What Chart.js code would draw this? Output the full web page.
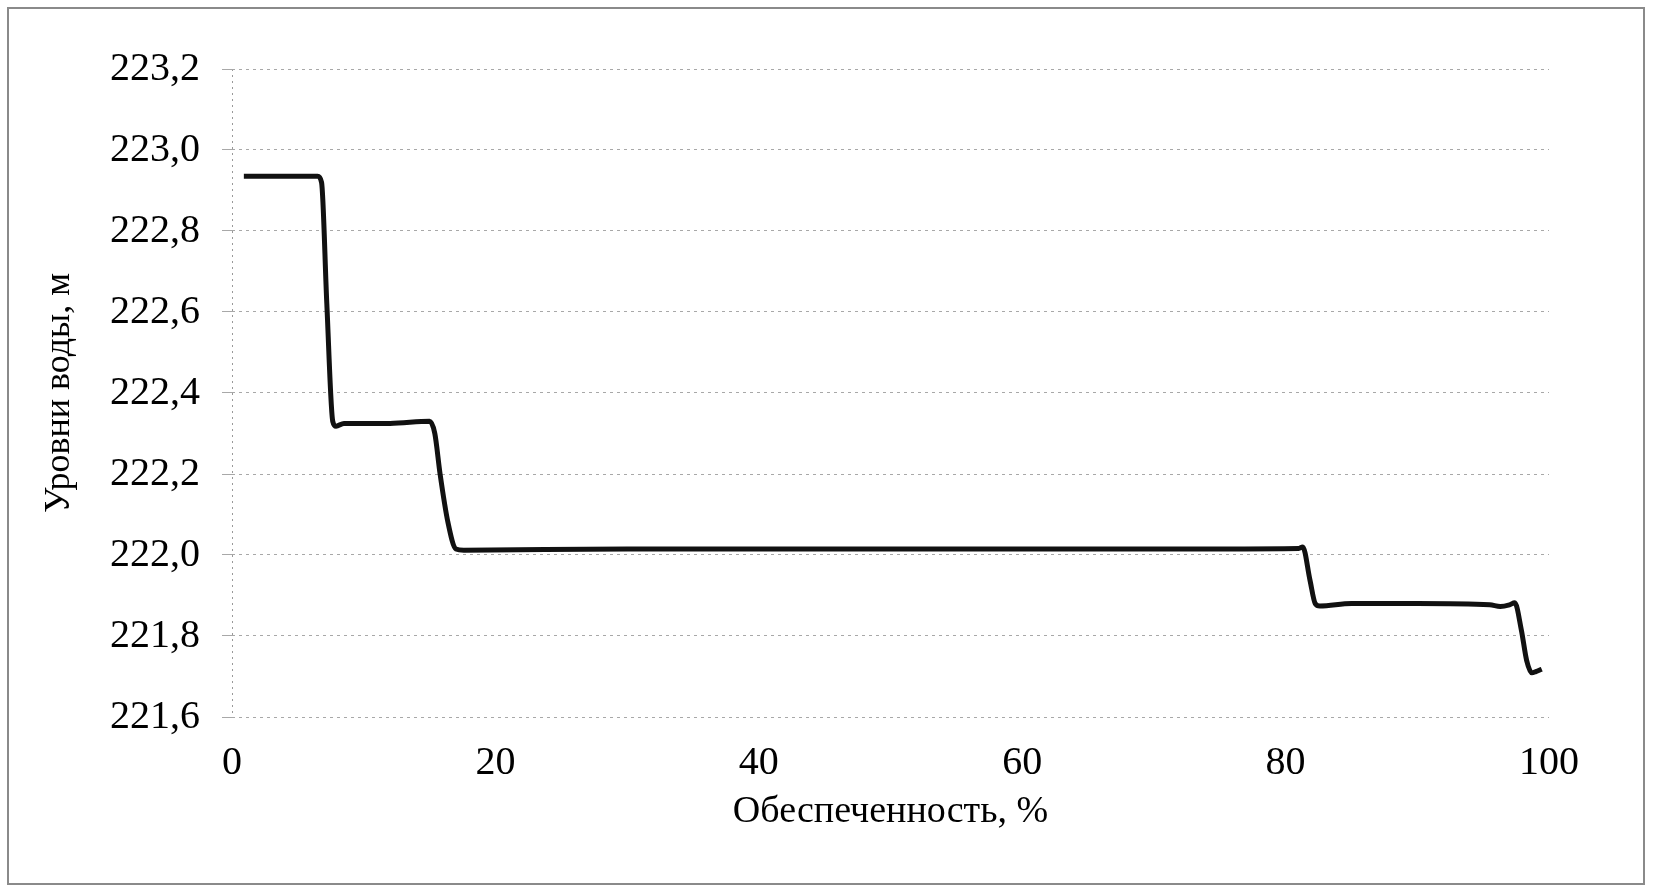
<!DOCTYPE html>
<html>
<head>
<meta charset="utf-8">
<script src="https://cdn.jsdelivr.net/npm/chart.js@4"></script>
<style>
    body { margin: 0; background: #fff; }
    #levelChart { display: block; }
</style>
</head>
<body>
<canvas id="levelChart" width="1654" height="893"></canvas>
<script>
// Обеспеченность, % (ось X)
var pct = [0.9, 3.5, 6.5, 6.8, 7.2, 7.65, 7.9, 8.5, 12, 15.0, 15.4, 15.8, 16.4, 17.0, 17.6,
    30, 45, 60, 75, 81.0, 81.3, 81.85, 82.25, 82.6, 85, 90, 95.5, 96.3, 97.0, 97.4,
    97.9, 98.3, 98.7, 99.0, 99.45];
// Уровни воды, м (ось Y)
var level = [222.935, 222.935, 222.935, 222.92, 222.62, 222.33, 222.318, 222.325, 222.325, 222.33, 222.30, 222.20, 222.08, 222.015, 222.012,
    222.015, 222.015, 222.015, 222.015, 222.016, 222.02, 221.938, 221.88, 221.874, 221.88, 221.88, 221.877, 221.873, 221.877, 221.882,
    221.815, 221.74, 221.709, 221.712, 221.718];
var yTicks = [221.6, 221.8, 222.0, 222.2, 222.4, 222.6, 222.8, 223.0, 223.2];
var xTicks = [0, 20, 40, 60, 80, 100];

document.addEventListener("DOMContentLoaded", function () {
    var points = pct.map(function (p, i) { return { x: p, y: level[i] }; });

    // рамка вокруг диаграммы
    var framePlugin = {
        id: 'frame',
        afterDraw: function (chart) {
            var c = chart.ctx;
            c.save();
            c.strokeStyle = '#8a8a8a';
            c.lineWidth = 2;
            c.strokeRect(8, 8, 1636, 876);
            c.restore();
        }
    };

    var ctx = document.getElementById('levelChart').getContext('2d');
    var chart = new Chart(ctx, {
        type: 'scatter',
        data: {
            datasets: [{
                data: points,
                showLine: true,
                borderColor: '#111',
                borderWidth: 5,
                pointRadius: 0,
                cubicInterpolationMode: 'monotone',
                fill: false
            }]
        },
        options: {
            responsive: false,
            animation: false,
            layout: { padding: { top: 69, right: 105, left: 10, bottom: 26 } },
            plugins: {
                legend: { display: false },
                tooltip: { enabled: false }
            },
            scales: {
                x: {
                    type: 'linear',
                    min: 0,
                    max: 100,
                    afterBuildTicks: function (axis) {
                        axis.ticks = xTicks.map(function (v) { return { value: v }; });
                    },
                    afterFit: function (axis) { axis.height = 150; },
                    grid: {
                        drawTicks: false,
                        lineWidth: 1,
                        color: function (c) { return c.tick && c.tick.value === 0 ? '#999' : 'rgba(0,0,0,0)'; }
                    },
                    border: { display: false, dash: [2, 4] },
                    ticks: {
                        padding: 22,
                        color: '#000',
                        font: { family: 'Liberation Serif', size: 40 }
                    },
                    title: {
                        display: true,
                        text: 'Обеспеченность, %',
                        color: '#000',
                        padding: { top: 0, bottom: 32 },
                        font: { family: 'Liberation Serif', size: 38 }
                    }
                },
                y: {
                    min: 221.6,
                    max: 223.2,
                    afterBuildTicks: function (axis) {
                        axis.ticks = yTicks.map(function (v) { return { value: v }; });
                    },
                    afterFit: function (axis) { axis.width = 222; },
                    grid: {
                        color: '#a8a8a8',
                        lineWidth: 1,
                        tickLength: 10
                    },
                    border: { display: false, dash: [3, 4] },
                    ticks: {
                        padding: 22,
                        color: '#000',
                        font: { family: 'Liberation Serif', size: 40 },
                        callback: function (v) { return v.toFixed(1).replace('.', ','); }
                    },
                    title: {
                        display: true,
                        text: 'Уровни воды, м',
                        color: '#000',
                        padding: { top: 28, bottom: 0 },
                        font: { family: 'Liberation Serif', size: 36 }
                    }
                }
            }
        },
        plugins: [framePlugin]
    });
});
</script>
</body>
</html>
